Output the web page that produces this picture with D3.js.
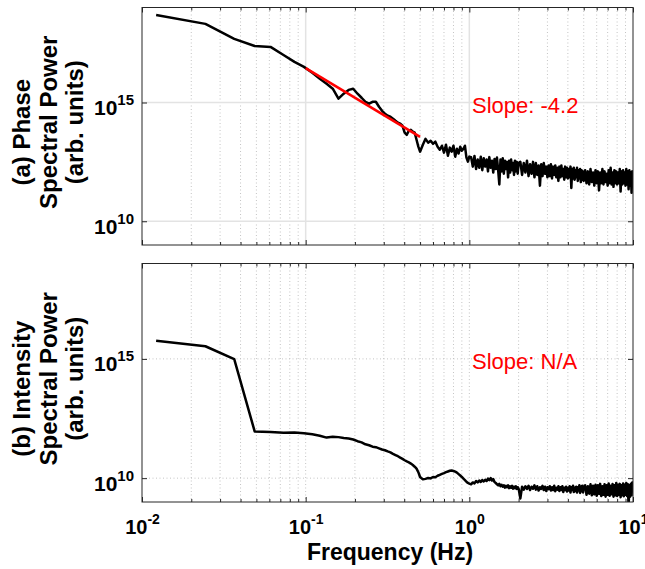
<!DOCTYPE html>
<html>
<head>
<meta charset="utf-8">
<script src="https://cdn.jsdelivr.net/npm/d3@7"></script>
<style>
  body { margin: 0; background: #fff; }
  text { font-family: "Liberation Sans", Arial, Helvetica, sans-serif; }
</style>
</head>
<body>
<svg id="chart" width="645" height="569"></svg>
<script>
// frequency grid (Hz), shared by both spectra
const freq = [
  0.0122, 0.0244, 0.0366, 0.0488, 0.061, 0.0732, 0.0854, 0.0976, 0.1098, 0.122,
  0.1342, 0.1464, 0.1586, 0.1708, 0.183, 0.1952, 0.2074, 0.2196, 0.2318, 0.244,
  0.2562, 0.2684, 0.2806, 0.2928, 0.305, 0.3172, 0.3294, 0.3416, 0.3538, 0.366,
  0.3782, 0.3904, 0.4026, 0.4148, 0.427, 0.4392, 0.4514, 0.4636, 0.4758, 0.488,
  0.50, 0.52, 0.54, 0.56, 0.58, 0.60, 0.62, 0.64, 0.66, 0.68,
  0.70, 0.72, 0.74, 0.76, 0.78, 0.80, 0.82, 0.84, 0.86, 0.88,
  0.90, 0.92, 0.94, 0.96, 0.98, 1.00,
  1.025, 1.05, 1.075, 1.1, 1.125, 1.15, 1.175, 1.2, 1.225, 1.25,
  1.275, 1.3, 1.325, 1.35, 1.375, 1.4, 1.425, 1.45, 1.475, 1.5,
  1.525, 1.55, 1.575, 1.6, 1.625, 1.65, 1.675, 1.7, 1.725, 1.75,
  1.775, 1.8, 1.825, 1.85, 1.875, 1.9, 1.925, 1.95, 1.975, 2.0,
  2.05, 2.1, 2.15, 2.2, 2.25, 2.3, 2.35, 2.4, 2.45, 2.5,
  2.55, 2.6, 2.65, 2.7, 2.75, 2.8, 2.85, 2.9, 2.95, 3.0,
  3.05, 3.1, 3.15, 3.2, 3.25, 3.3, 3.35, 3.4, 3.45, 3.5,
  3.55, 3.6, 3.65, 3.7, 3.75, 3.8, 3.85, 3.9, 3.95, 4.0,
  4.05, 4.1, 4.15, 4.2, 4.25, 4.3, 4.35, 4.4, 4.45, 4.5,
  4.55, 4.6, 4.65, 4.7, 4.75, 4.8, 4.85, 4.9, 4.95, 5.0,
  5.1, 5.2, 5.3, 5.4, 5.5, 5.6, 5.7, 5.8, 5.9, 6.0,
  6.1, 6.2, 6.3, 6.4, 6.5, 6.6, 6.7, 6.8, 6.9, 7.0,
  7.1, 7.2, 7.3, 7.4, 7.5, 7.6, 7.7, 7.8, 7.9, 8.0,
  8.1, 8.2, 8.3, 8.4, 8.5, 8.6, 8.7, 8.8, 8.9, 9.0,
  9.1, 9.2, 9.3, 9.4, 9.5, 9.6, 9.7, 9.8, 9.9, 10.0
];

// log10 of spectral power
const phasePow = [
  18.68, 18.31, 17.68, 17.38, 17.34, 17.00, 16.71, 16.50, 16.25, 16.00,
  15.79, 15.58, 15.16, 15.37, 15.53, 15.58, 15.37, 15.20, 15.03, 14.95,
  15.03, 15.03, 14.82, 14.65, 14.53, 14.44, 14.40, 14.32, 14.23, 14.15,
  14.11, 14.02, 13.73, 13.64, 13.81, 13.85, 13.77, 13.73, 13.43, 13.14,
  12.93, 13.22, 13.47, 13.31, 13.39, 13.26, 13.35, 13.14, 13.01, 13.18,
  12.89, 13.22, 12.76, 13.10, 12.93, 13.18, 12.72, 13.05, 12.85, 13.14,
  12.97, 13.05, 13.18, 12.68, 12.51, 12.72,
  12.70, 12.30, 12.75, 12.20, 12.60, 12.25, 12.72, 12.15, 12.65, 12.30,
  12.60, 12.10, 12.70, 12.25, 12.55, 12.05, 12.62, 12.20, 12.68, 12.15,
  11.55, 12.60, 12.10, 12.65, 12.00, 12.55, 12.20, 12.50, 11.85, 12.55,
  12.05, 12.60, 12.15, 12.45, 11.95, 12.55, 12.10, 12.50, 12.00, 12.45,
  12.50, 11.95, 12.45, 12.05, 12.55, 11.90, 12.40, 12.00, 12.50, 11.85,
  12.45, 11.95, 12.35, 11.50, 12.40, 11.90, 12.45, 12.00, 12.30, 11.85,
  12.35, 11.90, 12.40, 11.80, 12.30, 11.95, 12.35, 11.85, 12.25, 11.70,
  12.30, 11.85, 12.35, 11.90, 12.20, 11.75, 12.30, 11.85, 12.25, 11.80,
  12.20, 11.85, 12.30, 11.40, 12.20, 11.80, 12.25, 11.75, 12.15, 11.85,
  12.25, 11.70, 12.15, 11.80, 12.20, 11.65, 12.15, 11.75, 12.10, 11.70,
  12.15, 11.60, 12.10, 11.55, 12.20, 11.65, 12.05, 11.50, 12.15, 11.60,
  12.10, 11.30, 12.05, 11.60, 12.20, 11.55, 12.10, 11.65, 12.00, 11.50,
  12.15, 11.60, 12.25, 11.55, 12.05, 11.45, 12.15, 11.60, 12.10, 11.55,
  12.05, 11.60, 12.20, 11.25, 12.10, 11.55, 12.15, 11.60, 12.05, 11.50,
  12.20, 11.55, 12.10, 11.35, 12.15, 11.50, 12.05, 11.20, 12.10, 11.75
];

const intensityPow = [
  15.76, 15.53, 14.99, 11.96, 11.93, 11.90, 11.91, 11.88, 11.84, 11.78,
  11.70, 11.74, 11.72, 11.68, 11.66, 11.62, 11.55, 11.50, 11.42, 11.38,
  11.32, 11.30, 11.25, 11.20, 11.17, 11.12, 11.08, 11.02, 10.97, 10.92,
  10.86, 10.81, 10.75, 10.70, 10.66, 10.61, 10.55, 10.48, 10.40, 10.25,
  10.05, 9.95, 9.97, 10.01, 9.99, 10.05, 10.04, 10.10, 10.14, 10.18,
  10.21, 10.25, 10.28, 10.31, 10.32, 10.30, 10.27, 10.23, 10.17, 10.11,
  10.05, 9.98, 9.92, 9.85, 9.80, 9.77,
  9.74, 9.82, 9.78, 9.88, 9.82, 9.90, 9.84, 9.92, 9.86, 9.93,
  9.88, 9.98, 9.92, 10.00, 9.90, 9.96, 9.84, 9.80, 9.74, 9.70,
  9.76, 9.66, 9.72, 9.64, 9.70, 9.60, 9.68, 9.62, 9.70, 9.58,
  9.66, 9.60, 9.68, 9.56, 9.64, 9.58, 9.66, 9.55, 9.62, 9.56,
  9.15, 9.64, 9.52, 9.66, 9.55, 9.68, 9.50, 9.64, 9.56, 9.70,
  9.52, 9.66, 9.48, 9.62, 9.55, 9.68, 9.50, 9.64, 9.46, 9.62,
  9.54, 9.66, 9.48, 9.62, 9.50, 9.68, 9.45, 9.60, 9.52, 9.66,
  9.46, 9.62, 9.50, 9.66, 9.42, 9.60, 9.50, 9.64, 9.44, 9.60,
  9.48, 9.66, 9.40, 9.62, 9.50, 9.68, 9.42, 9.60, 9.46, 9.64,
  9.40, 9.62, 9.48, 9.70, 9.38, 9.64, 9.45, 9.68, 9.40, 9.62,
  9.70, 9.30, 9.66, 9.35, 9.74, 9.28, 9.68, 9.32, 9.72, 9.26,
  9.70, 9.34, 9.76, 9.25, 9.66, 9.30, 9.74, 9.22, 9.70, 9.30,
  9.78, 9.26, 9.68, 9.32, 9.75, 9.22, 9.70, 9.28, 9.80, 9.25,
  9.72, 9.30, 9.76, 9.20, 9.70, 9.28, 9.78, 9.24, 9.72, 9.30,
  9.80, 9.25, 9.74, 8.80, 9.70, 9.22, 9.76, 9.28, 9.82, 9.60
];

// power-law fit over 0.1 - 0.5 Hz (phase only)
const slopeFreq = [0.1, 0.5];
const slopePow = [16.45, 13.55];

const xTicks = [0.01, 0.1, 1, 10];
const yTicks = [1e10, 1e15];
const yDomain = [1e9, 1e19];

const phaseTitle = ["(a) Phase", "Spectral Power", "(arb. units)"];
const intensityTitle = ["(b) Intensity", "Spectral Power", "(arb. units)"];

const svg = d3.select("#chart");
const axisColor = "#262626";

const x = d3.scaleLog().domain([0.01, 10]).range([142, 633]);
const isDecade = t => Math.abs(Math.log10(t) - Math.round(Math.log10(t))) < 1e-6;
const minorX = x.ticks().filter(t => !isDecade(t));

const superscript = (g, size, dy) => {
  g.selectAll(".tick text").each(function(d) {
    const t = d3.select(this).text("");
    t.append("tspan").text("10");
    t.append("tspan").attr("dy", dy).attr("font-size", size)
      .text(Math.round(Math.log10(d)));
  });
};

const styleAxis = g => {
  g.select(".domain").remove();
  g.selectAll(".tick line").attr("stroke", axisColor);
  g.attr("font-family", null).attr("font-size", 20).attr("font-weight", "bold")
    .attr("fill", "#000");
  g.selectAll(".tick text").attr("fill", "#000");
};

const drawPanel = (id, top, bottom, values, title, slopeText, solidGrid, xLabels) => {
  const y = d3.scaleLog().domain(yDomain).range([bottom, top]);
  const left = x.range()[0], right = x.range()[1];
  const g = svg.append("g");

  g.append("clipPath").attr("id", "clip-" + id)
    .append("rect").attr("x", left).attr("y", top)
    .attr("width", right - left).attr("height", bottom - top);

  // minor grid
  g.append("g").selectAll("line").data(minorX).join("line")
    .attr("x1", d => x(d)).attr("x2", d => x(d))
    .attr("y1", top).attr("y2", bottom)
    .attr("stroke", "#c4c4c4").attr("stroke-width", 1)
    .attr("stroke-dasharray", "1,2.5");

  // major grid
  const majorStyle = sel => solidGrid
    ? sel.attr("stroke", "#e3e3e3").attr("stroke-width", 1.5)
    : sel.attr("stroke", "#c4c4c4").attr("stroke-width", 1).attr("stroke-dasharray", "1,2.5");
  g.append("g").selectAll("line").data(xTicks.slice(1, -1)).join("line")
    .attr("x1", d => x(d)).attr("x2", d => x(d))
    .attr("y1", top).attr("y2", bottom)
    .call(majorStyle);
  g.append("g").selectAll("line").data(yTicks).join("line")
    .attr("x1", left).attr("x2", right)
    .attr("y1", d => y(d)).attr("y2", d => y(d))
    .call(majorStyle);

  // spectrum
  const line = d3.line()
    .x((d, i) => x(freq[i]))
    .y(d => y(Math.pow(10, d)));
  g.append("path")
    .attr("clip-path", "url(#clip-" + id + ")")
    .attr("d", line(values))
    .attr("fill", "none").attr("stroke", "#000")
    .attr("stroke-width", 2.5).attr("stroke-linejoin", "round");

  // fitted slope
  if (id === "a") {
    const fit = d3.line()
      .x((d, i) => x(slopeFreq[i]))
      .y(d => y(Math.pow(10, d)));
    g.append("path").attr("d", fit(slopePow))
      .attr("fill", "none").attr("stroke", "#ff0000").attr("stroke-width", 2.6);
  }

  g.append("text")
    .attr("x", 472).attr("y", y(1e15) + 10)
    .attr("font-size", 22).attr("fill", "#ff0000")
    .text(slopeText);

  // ticks
  const bottomAxis = g.append("g").attr("transform", `translate(0,${bottom})`)
    .call(d3.axisBottom(x).tickValues(xTicks).tickSizeInner(-5).tickSizeOuter(0)
      .tickFormat(xLabels ? null : ""))
    .call(styleAxis);
  if (xLabels) {
    bottomAxis.selectAll(".tick text").attr("y", 32).attr("dy", null);
    superscript(bottomAxis, 14, -10);
  }
  g.append("g").attr("transform", `translate(0,${bottom})`)
    .call(d3.axisBottom(x).tickValues(minorX).tickSize(-3).tickFormat(""))
    .call(styleAxis);
  g.append("g").attr("transform", `translate(0,${top})`)
    .call(d3.axisTop(x).tickValues(xTicks).tickSize(-5).tickFormat(""))
    .call(styleAxis);
  g.append("g").attr("transform", `translate(0,${top})`)
    .call(d3.axisTop(x).tickValues(minorX).tickSize(-3).tickFormat(""))
    .call(styleAxis);

  const leftAxis = g.append("g").attr("transform", `translate(${left},0)`)
    .call(d3.axisLeft(y).tickValues(yTicks).tickSize(-5).tickPadding(8))
    .call(styleAxis);
  leftAxis.attr("font-size", 21);
  leftAxis.selectAll(".tick text").attr("dy", 12);
  superscript(leftAxis, 15, -10);
  g.append("g").attr("transform", `translate(${right},0)`)
    .call(d3.axisRight(y).tickValues(yTicks).tickSize(-5).tickFormat(""))
    .call(styleAxis);

  // box
  g.append("rect")
    .attr("x", left).attr("y", top)
    .attr("width", right - left).attr("height", bottom - top)
    .attr("fill", "none").attr("stroke", axisColor).attr("stroke-width", 1);

  // y title, three lines
  const cy = (top + bottom) / 2 - 4;
  g.selectAll(".ytitle").data(title).join("text")
    .attr("class", "ytitle")
    .attr("transform", (d, i) => `translate(${30 + i * 26.5},${cy + (i === 0 ? 10 : 0)}) rotate(-90)`)
    .attr("text-anchor", "middle")
    .attr("font-size", 24).attr("font-weight", "bold")
    .text(d => d);
};

drawPanel("a", 7.5, 245, phasePow, phaseTitle, "Slope: -4.2", true, false);
drawPanel("b", 263.5, 502, intensityPow, intensityTitle, "Slope: N/A", false, true);

svg.append("text")
  .attr("x", 390).attr("y", 560)
  .attr("text-anchor", "middle")
  .attr("font-size", 23).attr("font-weight", "bold")
  .text("Frequency (Hz)");
</script>
</body>
</html>
